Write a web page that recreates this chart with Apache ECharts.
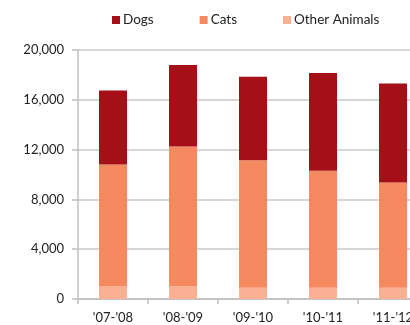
<!DOCTYPE html>
<html>
<head>
<meta charset="utf-8">
<script src="https://cdn.jsdelivr.net/npm/echarts@6/dist/echarts.min.js"></script>
<style>
html,body{margin:0;padding:0;background:#fff;}
#chart{width:410px;height:325px;}
</style>
</head>
<body>
<div id="chart"></div>
<script>
var categories = ["'07-'08", "'08-'09", "'09-'10", "'10-'11", "'11-'12"];
var otherAnimals = [1050, 1050, 900, 900, 900];
var cats = [9750, 11200, 10250, 9400, 8450];
var dogs = [5950, 6550, 6700, 7850, 7950];
var yTicks = [0, 4000, 8000, 12000, 16000, 20000];

var FONT = 'Lato, "DejaVu Sans", sans-serif';
var chart = echarts.init(document.getElementById('chart'), null, {renderer: 'canvas'});
chart.setOption({
  animation: false,
  backgroundColor: '#ffffff',
  legend: {
    top: 8,
    left: 107,
    itemWidth: 8,
    itemHeight: 8,
    itemGap: 46,
    icon: 'rect',
    textStyle: {fontFamily: FONT, fontSize: 13.5, color: '#222', padding: [0, 0, 0, -2]},
    data: ['Dogs', 'Cats', 'Other Animals']
  },
  grid: {left: 78, top: 50, width: 350, height: 249, containLabel: false, outerBoundsMode: 'none'},
  xAxis: {
    type: 'category',
    data: categories,
    axisLine: {lineStyle: {color: '#bfbfbf', width: 1.5}},
    axisTick: {show: true, length: 5, lineStyle: {color: '#bfbfbf', width: 1.5}},
    axisLabel: {fontFamily: FONT, fontSize: 13, color: '#222', margin: 12, hideOverlap: false}
  },
  yAxis: {
    type: 'value',
    min: 0,
    max: 20000,
    interval: 4000,
    axisLine: {show: true, lineStyle: {color: '#bfbfbf', width: 1.5}},
    axisTick: {show: true, length: 6, lineStyle: {color: '#bfbfbf', width: 1.5}},
    splitLine: {show: true, lineStyle: {color: '#c8c8c8', width: 1.5}},
    axisLabel: {
      fontFamily: FONT, fontSize: 13, color: '#222', margin: 14,
      formatter: function (v) { return yTicks.indexOf(v) >= 0 ? v.toLocaleString('en-US') : ''; }
    }
  },
  series: [
    {name: 'Other Animals', type: 'bar', stack: 'total', data: otherAnimals, barWidth: 28,
     itemStyle: {color: '#fbb093'}},
    {name: 'Cats', type: 'bar', stack: 'total', data: cats, barWidth: 28,
     itemStyle: {color: '#f58a60'}},
    {name: 'Dogs', type: 'bar', stack: 'total', data: dogs, barWidth: 28,
     itemStyle: {color: '#a50f18'}}
  ]
});
</script>
</body>
</html>
